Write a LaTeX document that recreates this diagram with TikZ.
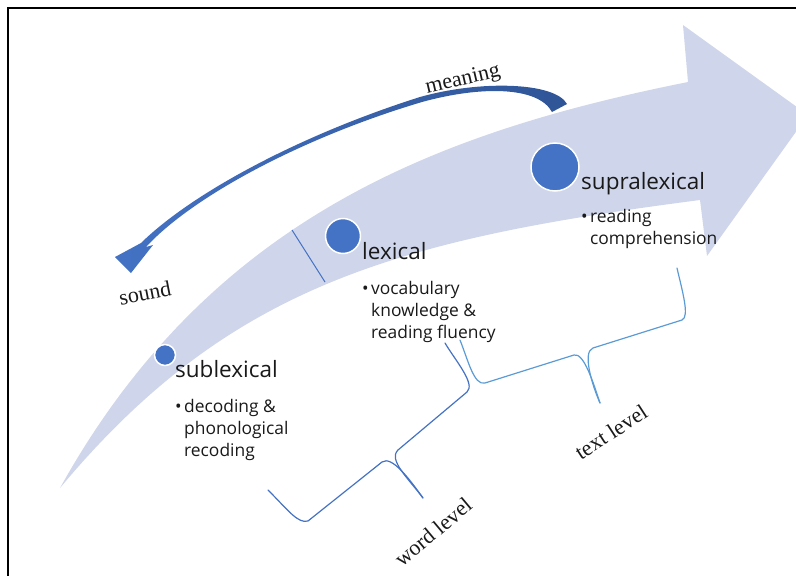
\documentclass[tikz,border=0pt]{standalone}
\usepackage{fontspec}
\setmainfont{Liberation Serif}
\newfontfamily\sansfnt{Open Sans}
\definecolor{bandc}{RGB}{207,213,234}
\definecolor{dotc}{RGB}{68,114,196}
\definecolor{arrdark}{RGB}{47,85,151}
\definecolor{arrlight}{RGB}{68,114,196}
\definecolor{braceA}{RGB}{68,114,196}
\definecolor{braceB}{RGB}{91,155,213}
\newcommand\bitems[1]{\begin{tabular}[t]{@{}l@{}}#1\end{tabular}}
\newcommand\bul{\llap{•\hspace{2.5pt}}}
\tikzset{
  hdr/.style={font=\sansfnt\fontsize{22.5}{25}\selectfont, inner sep=0pt, anchor=base west, text=black!90},
  bultxt/.style={font=\sansfnt\fontsize{17.4}{22}\selectfont, inner sep=0pt, anchor=base west, text=black!90},
  serif/.style={font=\fontsize{22}{24}\selectfont, inner sep=0pt, text=black!90},
  level/.style={circle, fill=dotc, draw=white, line width=1.5pt, inner sep=0pt},
  bracestyle/.style={line width=1.2pt, line join=round, line cap=round}
}
\begin{document}
\begin{tikzpicture}[x=1pt,y=-1pt]
\useasboundingbox (0,0) rectangle (796,576);
% frame
\draw[line width=2pt, black] (8,577) -- (8,8) -- (797,8);
% big curved arrow
\fill[bandc] (60,488) .. controls (210,218) and (438,132) .. (688,82)
  -- (683,25) -- (808,115) -- (707,256) -- (700,200)
  .. controls (400,239) and (230,284) .. (60,488) -- cycle;
% separator
\draw[dotc, line width=1pt] (292,230) -- (325,282);
% meaning/sound arrow
\shade[left color=arrlight, right color=arrdark]
  (567,104) .. controls (555,82) and (480,80) .. (420,97)
  .. controls (300,135) and (192,193) .. (141,243)
  -- (115,257) -- (131,273) -- (153,245) -- (146,247)
  .. controls (192,197) and (301,138) .. (422,102)
  .. controls (480,86) and (538,86) .. (552,112) -- cycle;
% circles
\node[level, minimum size=21pt] (c1) at (165,355) {};
\node[level, minimum size=35pt] (c2) at (343,236) {};
\node[level, minimum size=48pt] (c3) at (555,167) {};
% headings
\node[hdr] (h1) at (175,377) {sublexical};
\node[hdr] (h2) at (362,259) {lexical};
\node[hdr] (h3) at (581,189) {supralexical};
% bullets
\node[bultxt] (b1) at (184,412) {\bitems{\bul decoding \&\\phonological\\recoding}};
\node[bultxt] (b2) at (371,294) {\bitems{\bul vocabulary\\knowledge \&\\reading fluency}};
\node[bultxt] (b3) at (590,222) {\bitems{\bul reading\\comprehension}};
% serif labels
\node[serif, rotate=13] (meaning) at (463,80) {meaning};
\node[serif, rotate=11] (sound) at (145,293) {sound};
\node[serif, rotate=40] (word) at (433,532) {word level};
\node[serif, rotate=33] (textl) at (611,432) {text level};
% brace 1 (word level)
\draw[braceA, bracestyle] (268,490) .. controls (288,510) and (298,524) .. (308,521)
  -- (382,462) .. controls (392,455) and (410,480) .. (423,498);
\draw[braceA, bracestyle] (423,498) .. controls (408,478) and (388,460) .. (398,450)
  -- (467,392) .. controls (476,384) and (455,360) .. (445,343);
% brace 2 (text level)
\draw[braceB, bracestyle] (460,340) .. controls (468,360) and (474,386) .. (485,383)
  -- (574,355) .. controls (584,352) and (594,385) .. (600,403);
\draw[braceB, bracestyle] (600,403) .. controls (592,385) and (582,352) .. (593,348)
  -- (682,320) .. controls (690,317) and (682,290) .. (677,268);
\end{tikzpicture}
\end{document}
